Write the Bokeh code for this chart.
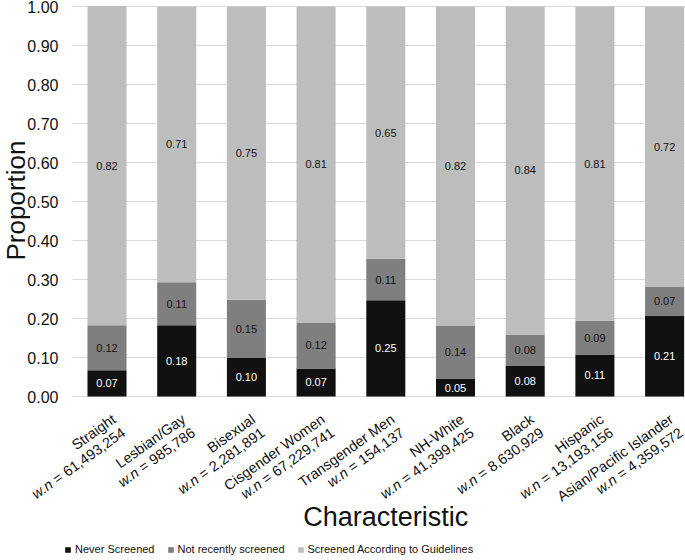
import math
from bokeh.plotting import figure
from bokeh.models import (ColumnDataSource, Range1d, Legend, LegendItem, Label)
from bokeh.core.properties import value
from bokeh.embed import file_html
from bokeh.resources import INLINE

categories = ["Straight", "Lesbian/Gay", "Bisexual", "Cisgender Women", "Transgender Men",
              "NH-White", "Black", "Hispanic", "Asian/Pacific Islander"]
weighted_n = ["61,493,254", "985,786", "2,281,891", "67,229,741", "154,137",
              "41,399,425", "8,630,929", "13,193,156", "4,359,572"]
never_screened = [0.067, 0.183, 0.099, 0.072, 0.247, 0.046, 0.078, 0.108, 0.208]
not_recently = [0.116, 0.110, 0.149, 0.118, 0.106, 0.136, 0.081, 0.086, 0.074]
guidelines = [0.818, 0.707, 0.752, 0.810, 0.647, 0.818, 0.841, 0.806, 0.718]
series_names = ["Never Screened", "Not recently screened", "Screened According to Guidelines"]
y_ticks = [0.0, 0.1, 0.2, 0.3, 0.4, 0.5, 0.6, 0.7, 0.8, 0.9, 1.0]

colors = ["#111111", "#7f7f7f", "#bdbdbd"]
FONT = "Liberation Sans"
TXT = "#111111"

# layout: the frame fills the whole canvas; positions below are pixel offsets
W, H = 685, 560
PX, PY = 69.7, 390.0           # pixels per data unit (x, y)
X_ORIGIN, Y_ORIGIN = 106.5, 396.0   # canvas pixel of data (0, 0)
def dx(px):
    return (px - X_ORIGIN) / PX
def dy(py):
    return (Y_ORIGIN - py) / PY

xs = list(range(len(categories)))
src = ColumnDataSource(dict(x=xs, never=never_screened, recent=not_recently, guide=guidelines))

p = figure(width=W, height=H, output_backend="svg", toolbar_location=None,
           x_range=Range1d(dx(0), dx(W)), y_range=Range1d(dy(H), dy(0)),
           x_axis_location=None, y_axis_location=None,
           min_border_left=0, min_border_right=0, min_border_top=0, min_border_bottom=0)
p.outline_line_color = None
p.grid.visible = False

# horizontal gridlines + tick labels
p.segment(x0=dx(72), x1=dx(W), y0=y_ticks, y1=y_ticks, line_color="#d9d9d9", line_width=1)
p.text(x=[dx(58)] * len(y_ticks), y=y_ticks, text=[f"{t:.2f}" for t in y_ticks],
       text_align="right", text_baseline="middle", text_font=value(FONT),
       text_font_size="16px", text_color=TXT)

rs = p.vbar_stack(["never", "recent", "guide"], x="x", width=0.56, color=colors,
                  line_color=None, source=src)

# segment value labels
lx, ly, lt, lc = [], [], [], []
for i in xs:
    base = 0.0
    for k, vals in enumerate([never_screened, not_recently, guidelines]):
        v = vals[i]
        lx.append(i)
        ly.append(base + v / 2)
        lt.append(f"{v:.2f}")
        lc.append("#ffffff" if k == 0 else TXT)
        base += v
lsrc = ColumnDataSource(dict(x=lx, y=ly, t=lt, c=lc))
p.text(x="x", y="y", text="t", text_color="c", source=lsrc, text_align="center",
       text_baseline="middle", text_font=value(FONT), text_font_size="11px")

# rotated category labels (two lines, right aligned, "w.n" in italics)
ARIAL = {",": 0.278, ".": 0.278, " ": 0.278, "=": 0.584, "w": 0.722, "n": 0.556}
def text_w(s, size):
    return sum(ARIAL.get(ch, 0.556) for ch in s) * size

ANG = 0.62
ca, sa = math.cos(ANG), math.sin(ANG)
LSIZE = 14.5
LINE = 16.5
def pos(i, ox, oy):
    return i + ox / PX, -oy / PY

for i in xs:
    o1x, o1y = 7.0, 21.0
    x1, y1 = pos(i, o1x, o1y)
    p.add_layout(Label(x=x1, y=y1, text=categories[i], angle=ANG, text_align="right",
                       text_baseline="middle", text_font=FONT, text_font_size=f"{LSIZE}px",
                       text_color=TXT))
    o2x, o2y = o1x + LINE * sa, o1y + LINE * ca
    rest = f"= {weighted_n[i]}"
    x2, y2 = pos(i, o2x, o2y)
    p.add_layout(Label(x=x2, y=y2, text=rest, angle=ANG, text_align="right",
                       text_baseline="middle", text_font=FONT, text_font_size=f"{LSIZE}px",
                       text_color=TXT))
    back = text_w(rest, LSIZE) + 0.278 * LSIZE
    x3, y3 = pos(i, o2x - back * ca, o2y + back * sa)
    p.add_layout(Label(x=x3, y=y3, text="w.n", angle=ANG, text_align="right",
                       text_baseline="middle", text_font=FONT, text_font_size=f"{LSIZE}px",
                       text_font_style="italic", text_color=TXT))

# axis titles
p.add_layout(Label(x=4, y=dy(516), text="Characteristic", text_align="center",
                   text_baseline="middle", text_font=FONT, text_font_size="27px",
                   text_color=TXT))
p.add_layout(Label(x=dx(15), y=dy(200), text="Proportion", angle=math.pi / 2,
                   text_align="center", text_baseline="middle", text_font=FONT,
                   text_font_size="26px", text_color=TXT))

legend = Legend(items=[LegendItem(label=series_names[k], renderers=[rs[k]]) for k in range(3)],
                orientation="horizontal", location=(64, 5), border_line_color=None,
                background_fill_alpha=0,
                label_text_font=FONT, label_text_font_size="11px",
                label_text_color=TXT, glyph_width=7, glyph_height=7,
                spacing=12, padding=0, margin=0, label_standoff=4)
p.add_layout(legend, "center")

open("out.html", "w").write(file_html(p, INLINE))
